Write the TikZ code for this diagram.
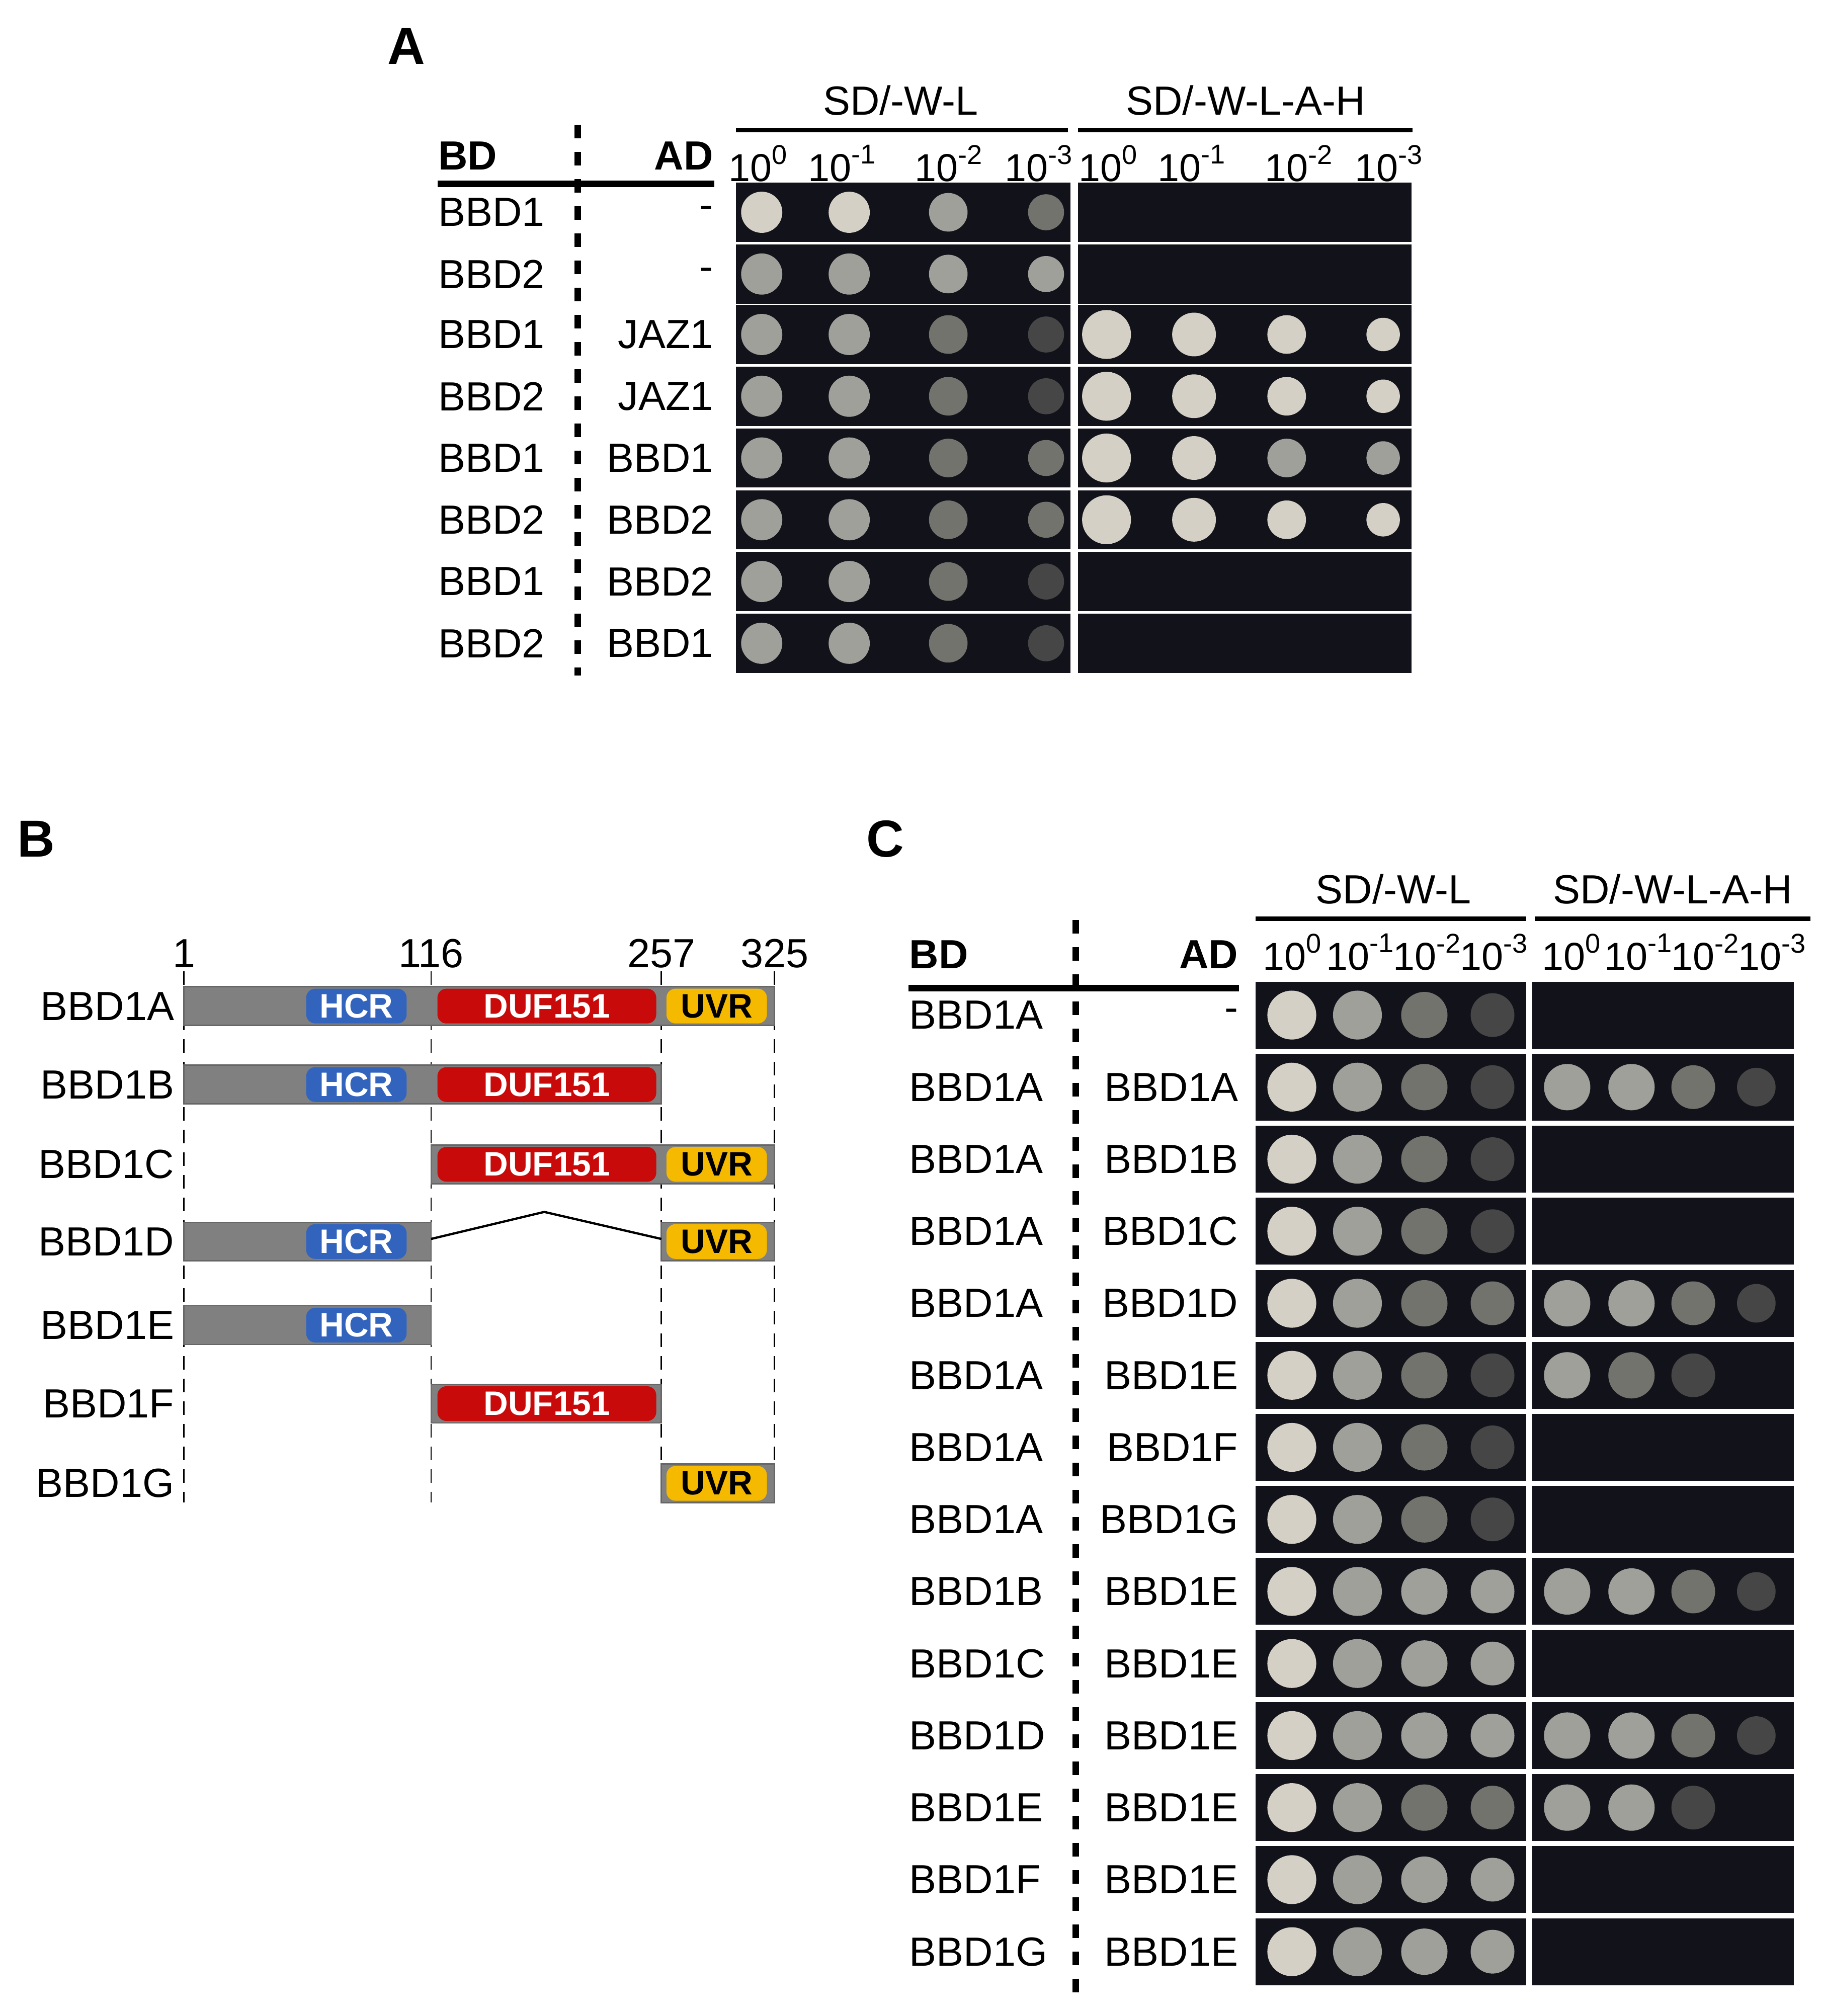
\documentclass[tikz,border=0pt]{standalone}
\usepackage{fontspec}
\setmainfont{Liberation Sans}
\begin{document}
\definecolor{l1}{RGB}{212,208,198}
\definecolor{l2}{RGB}{160,160,155}
\definecolor{l3}{RGB}{115,115,110}
\definecolor{l4}{RGB}{70,70,70}
\definecolor{plate}{RGB}{18,18,26}
\definecolor{hcr}{RGB}{50,100,190}
\definecolor{duf}{RGB}{200,10,10}
\definecolor{uvr}{RGB}{245,185,0}
\definecolor{bar}{RGB}{128,128,128}
\newcommand\myspot[4]{\ifnum#3>0 \fill[l#3] (#1,#2) circle (#4);\fi}
\begin{tikzpicture}[x=0.01cm,y=-0.01cm,
  lab/.style={font=\fontsize{9pt}{10pt}\selectfont,inner sep=0},
  dil/.style={font=\fontsize{8.6pt}{10pt}\selectfont,inner sep=0},
  hd/.style={font=\fontsize{9pt}{10pt}\selectfont\bfseries,inner sep=0},
  big/.style={font=\fontsize{11.5pt}{12pt}\selectfont\bfseries,inner sep=0},
  dom/.style={font=\fontsize{7.5pt}{8pt}\selectfont\bfseries,text=white,inner sep=0,rounded corners=2pt,minimum height=0.27cm},
  gbar/.style={fill=bar,draw=black!60,line width=0.3pt},
  dsh/.style={dashed,line width=1.4pt},
  vdsh/.style={densely dashed,line width=0.3pt}]
\useasboundingbox (0,0) rectangle (1415,1567);
% ---------- Panel A
\node[big] (A) at (316,36) {A};
\node[lab] (a1) at (700,78) {SD/-W-L};
\node[lab] (a2) at (968,78) {SD/-W-L-A-H};
\draw[line width=1pt] (572,101) -- (830,101);
\draw[line width=1pt] (838,101) -- (1098,101);
\node[hd,anchor=west] (abd) at (340,121) {BD};
\node[hd,anchor=east] (aad) at (555,121) {AD};
\draw[line width=1.4pt] (340,143) -- (555,143);
\draw[dsh] (449,97) -- (449,525);
\foreach \x [count=\i] in {590,655,738,808,862,927,1010,1080}{
  \pgfmathtruncatemacro\e{mod(\i-1,4)}
  \node[dil] (ad\i) at (\x,127) {10\textsuperscript{\ifnum\e=0 0\else -\e\fi}};}
\foreach \y/\bd/\ad/\a/\b/\c/\d/\e/\f/\g/\h in {
 165/BBD1/-/1/1/2/3/0/0/0/0,
 213/BBD2/-/2/2/2/2/0/0/0/0,
 260/BBD1/JAZ1/2/2/3/4/1/1/1/1,
 308/BBD2/JAZ1/2/2/3/4/1/1/1/1,
 356/BBD1/BBD1/2/2/3/3/1/1/2/2,
 404/BBD2/BBD2/2/2/3/3/1/1/1/1,
 452/BBD1/BBD2/2/2/3/4/0/0/0/0,
 500/BBD2/BBD1/2/2/3/4/0/0/0/0}{
 \node[lab,anchor=west] (abd\y) at (340,\y) {\bd};
 \node[lab,anchor=east] (aad\y) at (555,\y) {\ad};
 \fill[plate] (572,\y-23) rectangle (832,\y+23);
 \fill[plate] (838,\y-23) rectangle (1097,\y+23);
 \myspot{592}{\y}{\a}{16}\myspot{660}{\y}{\b}{16}\myspot{737}{\y}{\c}{15}\myspot{813}{\y}{\d}{14}
 \myspot{860}{\y}{\e}{19}\myspot{928}{\y}{\f}{17}\myspot{1000}{\y}{\g}{15}\myspot{1075}{\y}{\h}{13}
}
% ---------- Panel B
\node[big] (B) at (28,652) {B};
\foreach \x/\t in {143/1,335/116,514/257,602/325}{\node[lab] (n\t) at (\x,741) {\t};}
\foreach \x in {143,335,514,602}{\draw[vdsh] (\x,755) -- (\x,1168);}
\newcommand\hcrbox[1]{\node[dom,fill=hcr,minimum width=0.78cm] at (277,#1) {HCR};}
\newcommand\dufbox[1]{\node[dom,fill=duf,minimum width=1.70cm] at (425,#1) {DUF151};}
\newcommand\uvrbox[1]{\node[dom,fill=uvr,text=black,minimum width=0.78cm] at (557,#1) {UVR};}
\foreach \y/\n in {782/BBD1A,843/BBD1B,905/BBD1C,965/BBD1D,1030/BBD1E,1091/BBD1F,1153/BBD1G}{
  \node[lab,anchor=east] (b\n) at (136,\y) {\n};}
\draw[gbar] (143,767) rectangle (602,797); \hcrbox{782}\dufbox{782}\uvrbox{782}
\draw[gbar] (143,828) rectangle (514,858); \hcrbox{843}\dufbox{843}
\draw[gbar] (335,890) rectangle (602,920); \dufbox{905}\uvrbox{905}
\draw[gbar] (143,950) rectangle (335,980); \hcrbox{965}
\draw[gbar] (514,950) rectangle (602,980); \uvrbox{965}
\coordinate (j1) at (335,963); \coordinate (j2) at (423,942); \coordinate (j3) at (514,963);
\draw[line width=0.5pt] (j1) -- (j2) -- (j3);
\draw[gbar] (143,1015) rectangle (335,1045); \hcrbox{1030}
\draw[gbar] (335,1076) rectangle (514,1106); \dufbox{1091}
\draw[gbar] (514,1138) rectangle (602,1168); \uvrbox{1153}
% ---------- Panel C
\node[big] (C) at (688,652) {C};
\node[lab] (c1) at (1083,691) {SD/-W-L};
\node[lab] (c2) at (1300,691) {SD/-W-L-A-H};
\draw[line width=1pt] (976,714) -- (1186,714);
\draw[line width=1pt] (1193,714) -- (1407,714);
\node[hd,anchor=west] (cbd) at (706,742) {BD};
\node[hd,anchor=east] (cad) at (963,742) {AD};
\draw[line width=1.4pt] (706,768) -- (963,768);
\draw[dsh] (836,715) -- (836,1552);
\foreach \x [count=\i] in {1005,1058,1110,1162,1222,1274,1326,1378}{
  \pgfmathtruncatemacro\e{mod(\i-1,4)}
  \node[dil] (cd\i) at (\x,740) {10\textsuperscript{\ifnum\e=0 0\else -\e\fi}};}
\foreach \y/\bd/\ad/\a/\b/\c/\d/\e/\f/\g/\h in {
 789/BBD1A/-/1/2/3/4/0/0/0/0,
 845/BBD1A/BBD1A/1/2/3/4/2/2/3/4,
 901/BBD1A/BBD1B/1/2/3/4/0/0/0/0,
 957/BBD1A/BBD1C/1/2/3/4/0/0/0/0,
 1013/BBD1A/BBD1D/1/2/3/3/2/2/3/4,
 1069/BBD1A/BBD1E/1/2/3/4/2/3/4/0,
 1125/BBD1A/BBD1F/1/2/3/4/0/0/0/0,
 1181/BBD1A/BBD1G/1/2/3/4/0/0/0/0,
 1237/BBD1B/BBD1E/1/2/2/2/2/2/3/4,
 1293/BBD1C/BBD1E/1/2/2/2/0/0/0/0,
 1349/BBD1D/BBD1E/1/2/2/2/2/2/3/4,
 1405/BBD1E/BBD1E/1/2/3/3/2/2/4/0,
 1461/BBD1F/BBD1E/1/2/2/2/0/0/0/0,
 1517/BBD1G/BBD1E/1/2/2/2/0/0/0/0}{
 \node[lab,anchor=west] (cbd\y) at (706,\y) {\bd};
 \node[lab,anchor=east] (cad\y) at (963,\y) {\ad};
 \fill[plate] (976,\y-26) rectangle (1186,\y+26);
 \fill[plate] (1191,\y-26) rectangle (1394,\y+26);
 \myspot{1004}{\y}{\a}{19}\myspot{1055}{\y}{\b}{19}\myspot{1107}{\y}{\c}{18}\myspot{1160}{\y}{\d}{17}
 \myspot{1218}{\y}{\e}{18}\myspot{1268}{\y}{\f}{18}\myspot{1316}{\y}{\g}{17}\myspot{1365}{\y}{\h}{15}
}
\end{tikzpicture}
\end{document}
